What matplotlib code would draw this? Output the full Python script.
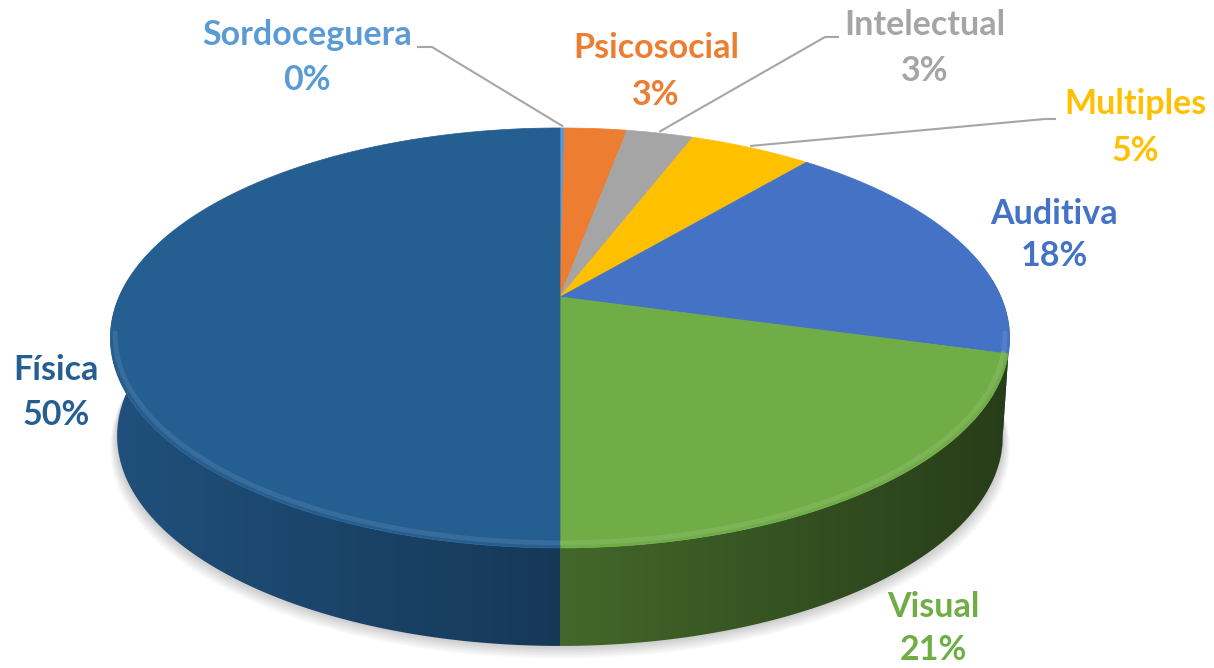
import numpy as np
import matplotlib
matplotlib.use("Agg")
import matplotlib.pyplot as plt
from matplotlib.colors import to_rgb
from matplotlib.patches import Polygon

# ---- data ----
categories = ["Sordoceguera", "Psicosocial", "Intelectual", "Multiples", "Auditiva", "Visual", "Física"]
values = [0.2, 2.7, 2.9, 5.3, 18.2, 20.7, 50.0]
colors = ["#5B9BD5", "#ED7D31", "#A5A5A5", "#FFC000", "#4472C4", "#70AD47", "#255E91"]

# ---- layout (pixel space) ----
W, H = 1214, 668
cx, cy = 560, 297       # apex of the slices on the top face
A, B, K = 202, 441, 0.195  # perspective parameters
DEPTH, SB = 98, 0.985      # side depth, bottom scale

label_pos = {  # (x center, y of line 1, y of line 2)
    "Sordoceguera": (307, 35, 80),
    "Psicosocial": (656, 48, 95),
    "Intelectual": (925, 25, 71),
    "Multiples": (1135, 104, 151),
    "Auditiva": (1054, 214, 256),
    "Visual": (933, 607, 650),
    "Física": (56, 370, 415),
}
leaders = {  # elbow points (label side) -> pie edge computed
    "Sordoceguera": [(418, 47), (432, 47)],
    "Intelectual": [(838, 37), (825, 37)],
    "Multiples": [(1055, 119), (1045, 119)],
}


def proj(theta_deg, r=1.0):
    t = np.radians(theta_deg)
    u = r * np.sin(t)
    v = -r * np.cos(t)
    d = 1 - K * v
    return cx + B * u / d, cy + A * v / d


def proj_bottom(theta_deg):
    x, y = proj(theta_deg)
    return cx + SB * (x - cx), y + DEPTH


fig = plt.figure(figsize=(W / 100, H / 100), dpi=100)
ax = fig.add_axes([0, 0, 1, 1])
ax.axis("off")

total = sum(values)
bounds = np.concatenate([[0], np.cumsum(values)]) / total * 360.0

# ---- soft shadow ----
tt = np.linspace(0, 360, 400)
bx, by = proj_bottom(tt)
for off in np.linspace(14, 2, 8):
    ax.fill(cx + (bx - cx) * (1 + off / 900), by + off * 0.9, color="#000000",
            alpha=0.025, lw=0, zorder=1)

# ---- side wall (front half) with horizontal shading gradient ----
xgrid = np.arange(W) + 0.5
shade = np.clip(0.6 - 0.25 * (xgrid - cx) / 450, 0.3, 0.9)
for i, (a0, a1) in enumerate(zip(bounds[:-1], bounds[1:])):
    lo, hi = max(a0, 85), min(a1, 275)
    if hi <= lo:
        continue
    ts = np.linspace(lo, hi, max(3, int((hi - lo) * 3)))
    tx, ty = proj(ts)
    bx_, by_ = proj_bottom(ts[::-1])
    poly = Polygon(np.column_stack([np.concatenate([tx, bx_]),
                                    np.concatenate([ty, by_])]),
                   closed=True, facecolor="none", edgecolor="none")
    ax.add_patch(poly)
    c = np.array(to_rgb(colors[i]))
    img = np.ones((2, W, 3)) * (shade[:, None] * c)[None, :, :]
    im = ax.imshow(img, extent=(0, W, H, 0), aspect="auto",
                   interpolation="bilinear", zorder=2)
    im.set_clip_path(poly)

# ---- top faces ----
for i, (a0, a1) in enumerate(zip(bounds[:-1], bounds[1:])):
    ts = np.linspace(a0, a1, max(3, int((a1 - a0) * 2)))
    xs, ys = proj(ts)
    ax.fill(np.concatenate([[cx], xs]), np.concatenate([[cy], ys]),
            color=colors[i], lw=0.5, edgecolor=colors[i], zorder=3)

# ---- bevel highlight on front edge ----
for i, (a0, a1) in enumerate(zip(bounds[:-1], bounds[1:])):
    lo, hi = max(a0, 100), min(a1, 260)
    if hi <= lo:
        continue
    ts = np.linspace(lo, hi, 200)
    xs, ys = proj(ts, 0.99)
    c = np.array(to_rgb(colors[i]))
    light = c + (1 - c) * 0.15
    ax.plot(xs, ys - 2, color=light, lw=3.5, alpha=0.6, zorder=4,
            solid_capstyle="butt")

# ---- leader lines ----
for name, pts in leaders.items():
    i = categories.index(name)
    mid = (bounds[i] + bounds[i + 1]) / 2
    ex, ey = proj(mid)
    xs = [p[0] for p in pts] + [ex]
    ys = [p[1] for p in pts] + [ey - 2]
    ax.plot(xs, ys, color="#A6A6A6", lw=1.5, zorder=5)

# ---- labels ----
pct = [round(v / total * 100) for v in values]
for i, name in enumerate(categories):
    x, y1, y2 = label_pos[name]
    kw = dict(ha="center", va="center", color=colors[i], fontsize=24.5,
              fontweight="bold", family=["Lato", "DejaVu Sans"], zorder=6)
    ax.text(x, y1, name, **kw)
    ax.text(x, y2, f"{pct[i]}%", **kw)

ax.set_xlim(0, W)
ax.set_ylim(H, 0)
fig.savefig("out.png", dpi=100)
